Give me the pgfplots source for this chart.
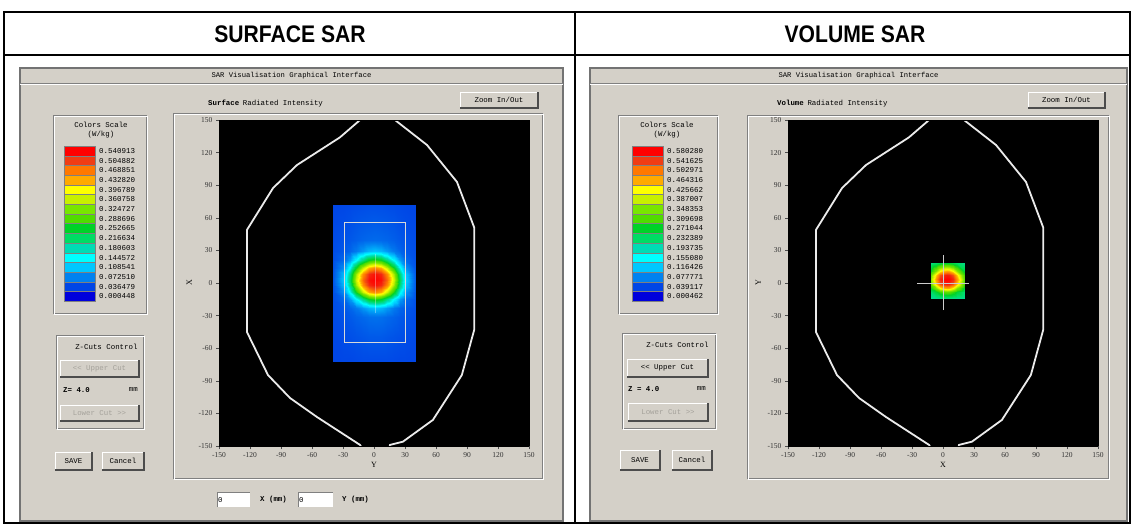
\documentclass[border=0pt]{standalone}
\usepackage{pgfplots}
\pgfplotsset{compat=1.18}
\usepackage{fontspec}
\setmainfont{Liberation Serif}
\newfontfamily\hdrfont{Liberation Sans}
\newfontfamily\guimono{Liberation Mono}

\definecolor{win}{RGB}{212,208,200}
\definecolor{dk}{RGB}{128,128,128}
\definecolor{gtxt}{RGB}{165,162,155}
\definecolor{sc0}{RGB}{0,0,220}
\definecolor{sc1}{RGB}{0,70,230}
\definecolor{sc2}{RGB}{0,130,240}
\definecolor{sc3}{RGB}{0,200,255}
\definecolor{sc4}{RGB}{0,255,255}
\definecolor{sc5}{RGB}{0,220,180}
\definecolor{sc6}{RGB}{0,220,100}
\definecolor{sc7}{RGB}{0,210,40}
\definecolor{sc8}{RGB}{80,220,0}
\definecolor{sc9}{RGB}{120,230,0}
\definecolor{sc10}{RGB}{200,240,0}
\definecolor{sc11}{RGB}{255,255,0}
\definecolor{sc12}{RGB}{255,170,0}
\definecolor{sc13}{RGB}{255,120,0}
\definecolor{sc14}{RGB}{240,60,20}
\definecolor{sc15}{RGB}{255,0,0}

\newcommand\gfont{\guimono\fontsize{7.4}{8}\selectfont}
\newcommand\sfont{\guimono\fontsize{7.5}{8}\selectfont}

\pgfplotsset{
  colormap={sar}{rgb255=(0,0,220) rgb255=(0,70,230) rgb255=(0,130,240) rgb255=(0,200,255)
    rgb255=(0,255,255) rgb255=(0,220,180) rgb255=(0,220,100) rgb255=(0,210,40)
    rgb255=(80,220,0) rgb255=(120,230,0) rgb255=(200,240,0) rgb255=(255,255,0)
    rgb255=(255,170,0) rgb255=(255,120,0) rgb255=(240,60,20) rgb255=(255,0,0)},
  sarplot/.style={
    view={0}{90}, scale only axis, width=310pt, height=326pt,
    anchor=south west,
    xmin=-150, xmax=150, ymin=-150, ymax=150, zmin=0, zmax=1,
    xtick={-150,-120,...,150}, ytick={-150,-120,...,150}, ztick=\empty,
    tick align=outside, tick pos=left, major tick length=3pt,
    every tick/.style={black!70},
    axis line style={black},
    tick label style={font=\fontsize{7.5}{8}\selectfont, text=black!80},
    /pgf/number format/assume math mode=true,
    label style={font=\fontsize{8}{8}\selectfont},
    xlabel style={yshift=2pt},
    colormap name=sar,
  },
}

% head outline (same contour on both cuts)
\pgfplotstableread{
x y z
-8 162 0.9
-13.5 150 0.9
-33 134 0.9
-74.5 108.6 0.9
-97.7 87.4 0.9
-123 48.8 0.9
-123 -45 0.9
-102.6 -84.7 0.9
-81.3 -105.8 0.9
-55.2 -123.3 0.9
-13.5 -149 0.9
-8 -158 0.9
}\outlineL
\pgfplotstableread{
x y z
13 -158 0.9
15.5 -149 0.9
28 -146 0.9
57 -126 0.9
85 -84.7 0.9
97 -43 0.9
97 51 0.9
80.3 93 0.9
51.3 127 0.9
20.3 150 0.9
14 162 0.9
}\outlineR

% surface SAR grid (W/kg)
\pgfplotstableread{
x y v
-40 -72 .036
-29 -72 .037
-23 -72 .037
-17 -72 .038
-11 -72 .039
-5 -72 .039
1 -72 .039
7 -72 .039
13 -72 .039
19 -72 .038
25 -72 .037
31 -72 .037
40 -72 .036
-40 -50 .037
-29 -50 .040
-23 -50 .042
-17 -50 .044
-11 -50 .046
-5 -50 .048
1 -50 .048
7 -50 .048
13 -50 .046
19 -50 .044
25 -50 .042
31 -50 .040
40 -50 .038
-40 -31 .039
-29 -31 .044
-23 -31 .048
-17 -31 .053
-11 -31 .057
-5 -31 .061
1 -31 .062
7 -31 .061
13 -31 .057
19 -31 .053
25 -31 .048
31 -31 .044
40 -31 .040
-40 -23 .040
-29 -23 .047
-23 -23 .055
-17 -23 .067
-11 -23 .084
-5 -23 .099
1 -23 .105
7 -23 .099
13 -23 .084
19 -23 .067
25 -23 .055
31 -23 .047
40 -23 .041
-40 -15 .041
-29 -15 .057
-23 -15 .087
-17 -15 .140
-11 -15 .204
-5 -15 .255
1 -15 .274
7 -15 .255
13 -15 .204
19 -15 .140
25 -15 .087
31 -15 .057
40 -15 .043
-40 -8 .043
-29 -8 .081
-23 -8 .152
-17 -8 .259
-11 -8 .365
-5 -8 .435
1 -8 .459
7 -8 .435
13 -8 .365
19 -8 .259
25 -8 .152
31 -8 .081
40 -8 .046
-40 -2 .045
-29 -2 .104
-23 -2 .205
-17 -2 .340
-11 -2 .456
-5 -2 .516
1 -2 .532
7 -2 .516
13 -2 .456
19 -2 .340
25 -2 .205
31 -2 .104
40 -2 .050
-40 3 .046
-29 3 .111
-23 3 .221
-17 3 .363
-11 3 .478
-5 3 .531
1 3 .540
7 3 .531
13 3 .478
19 3 .363
25 3 .221
31 3 .111
40 3 .051
-40 8 .045
-29 8 .104
-23 8 .205
-17 8 .340
-11 8 .456
-5 8 .516
1 8 .532
7 8 .516
13 8 .456
19 8 .340
25 8 .205
31 8 .104
40 8 .050
-40 14 .043
-29 14 .081
-23 14 .152
-17 14 .259
-11 14 .365
-5 14 .435
1 14 .459
7 14 .435
13 14 .365
19 14 .259
25 14 .152
31 14 .081
40 14 .046
-40 21 .041
-29 21 .057
-23 21 .087
-17 21 .140
-11 21 .204
-5 21 .255
1 21 .274
7 21 .255
13 21 .204
19 21 .140
25 21 .087
31 21 .057
40 21 .043
-40 29 .040
-29 29 .047
-23 29 .055
-17 29 .067
-11 29 .084
-5 29 .099
1 29 .105
7 29 .099
13 29 .084
19 29 .067
25 29 .055
31 29 .047
40 29 .041
-40 40 .039
-29 40 .044
-23 40 .047
-17 40 .051
-11 40 .055
-5 40 .057
1 40 .058
7 40 .057
13 40 .055
19 40 .051
25 40 .047
31 40 .044
40 40 .040
-40 55 .037
-29 55 .040
-23 55 .042
-17 55 .045
-11 55 .047
-5 55 .048
1 55 .049
7 55 .048
13 55 .047
19 55 .045
25 55 .042
31 55 .040
40 55 .038
-40 72 .036
-29 72 .037
-23 72 .038
-17 72 .039
-11 72 .040
-5 72 .041
1 72 .041
7 72 .041
13 72 .040
19 72 .039
25 72 .038
31 72 .037
40 72 .036
}\surfsar

% volume SAR grid (W/kg)
\pgfplotstableread{
x y v
-12 -14 .211
-6.5 -14 .215
-2.5 -14 .218
1.5 -14 .222
3.5 -14 .223
5.5 -14 .222
9.5 -14 .218
13.5 -14 .215
21 -14 .211
-12 -8.5 .230
-6.5 -8.5 .260
-2.5 -8.5 .295
1.5 -8.5 .318
3.5 -8.5 .322
5.5 -8.5 .318
9.5 -8.5 .295
13.5 -8.5 .260
21 -8.5 .221
-12 -4.5 .279
-6.5 -4.5 .353
-2.5 -4.5 .425
1.5 -4.5 .464
3.5 -4.5 .470
5.5 -4.5 .464
9.5 -4.5 .425
13.5 -4.5 .353
21 -4.5 .252
-12 -0.5 .339
-6.5 -0.5 .446
-2.5 -0.5 .526
1.5 -0.5 .560
3.5 -0.5 .564
5.5 -0.5 .560
9.5 -0.5 .526
13.5 -0.5 .446
21 -0.5 .292
-12 3.5 .365
-6.5 3.5 .480
-2.5 3.5 .556
1.5 3.5 .579
3.5 3.5 .580
5.5 3.5 .579
9.5 3.5 .556
13.5 3.5 .480
21 3.5 .312
-12 7.5 .339
-6.5 7.5 .446
-2.5 7.5 .526
1.5 7.5 .560
3.5 7.5 .564
5.5 7.5 .560
9.5 7.5 .526
13.5 7.5 .446
21 7.5 .292
-12 11.5 .279
-6.5 11.5 .353
-2.5 11.5 .425
1.5 11.5 .464
3.5 11.5 .470
5.5 11.5 .464
9.5 11.5 .425
13.5 11.5 .353
21 11.5 .252
-12 18 .218
-6.5 18 .232
-2.5 18 .251
1.5 18 .263
3.5 18 .265
5.5 18 .263
9.5 18 .251
13.5 18 .232
21 18 .215
}\volsar

% GUI helpers (coordinates in px, y downward)
\newcommand\btn[5]{%
  \fill[win] (#1,#2) rectangle (#3,#4);
  \draw[white, line width=0.9pt] (#1,#4) -- (#1,#2) -- (#3,#2);
  \draw[black!70, line width=1.3pt] (#1,#4) -- (#3,#4) -- (#3,#2);
  \node[font=\gfont, inner sep=0pt] at ({(#1+#3)/2},{(#2+#4)/2}) {#5};
}
\newcommand\grp[4]{%
  \draw[dk, line width=0.6pt] (#1,#2) rectangle (#3,#4);
  \draw[white, line width=0.6pt] (#1+1,#2+1) rectangle (#3+1,#4+1);
}
\newcommand\window[4]{%
  \fill[win] (#1,#2) rectangle (#3,#4);
  \draw[black!55, line width=1.5pt] (#1,#2) rectangle (#3,#4);
  \draw[dk, line width=0.8pt] (#1,#2+15) -- (#3,#2+15);
  \draw[white, line width=0.6pt] (#1,#2+16) -- (#3,#2+16);
  \node[font=\guimono\fontsize{7.2}{8}\selectfont, inner sep=0pt] at ({(#1+#3)/2},#2+8) {SAR Visualisation Graphical Interface};
}
\newcommand\colscale[2]{%
  \foreach \c [count=\i from 0] in {sc15,sc14,sc13,sc12,sc11,sc10,sc9,sc8,sc7,sc6,sc5,sc4,sc3,sc2,sc1,sc0}
    \filldraw[fill=\c, draw=black!50, line width=0.3pt] (#1,146+\i*9.7) rectangle (#1+31,155.7+\i*9.7);
  \foreach \l [count=\i from 0] in {#2}
    \node[anchor=west, inner sep=0pt, font=\sfont] at (#1+35,150.9+\i*9.7) {\l};
}

\begin{document}
\begin{tikzpicture}[x=1pt, y=-1pt]
\useasboundingbox (0,0) rectangle (1134,525);
\fill[white] (0,0) rectangle (1134,525);

% table with headers
\draw[line width=1.2pt] (4,12) rectangle (1130,523);
\draw[line width=1.2pt] (4,55) -- (1130,55);
\draw[line width=1.2pt] (575,12) -- (575,523);
\node at (290,34) {\scalebox{0.88}[1]{\hdrfont\bfseries\fontsize{24}{24}\selectfont SURFACE SAR}};
\node at (855,34) {\scalebox{0.88}[1]{\hdrfont\bfseries\fontsize{24}{24}\selectfont VOLUME SAR}};

% ---------- left window: surface SAR ----------
\window{20}{68}{563}{521}
\node[anchor=west, font=\gfont, inner sep=0pt] at (208,104) {\textbf{Surface}\enspace Radiated Intensity};
\btn{460}{92}{538}{108}{Zoom In/Out}
\grp{53}{115}{146}{313}
\node[font=\gfont] at (101,125) {Colors Scale};
\node[font=\gfont] at (101,135) {(W/kg)};
\colscale{64}{0.540913,0.504882,0.468851,0.432820,0.396789,0.360758,0.324727,0.288696,0.252665,0.216634,0.180603,0.144572,0.108541,0.072510,0.036479,0.000448}
\grp{56}{335}{143}{428}
\node[anchor=east, font=\gfont] at (141,347) {Z-Cuts Control};
\btn{60}{360}{139}{377}{\textcolor{gtxt}{<{}< Upper Cut}}
\node[anchor=west, font=\gfont\bfseries, inner sep=0pt] at (63,390) {Z= 4.0};
\node[anchor=east, font=\gfont, inner sep=0pt] at (138,390) {mm};
\btn{60}{405}{139}{421}{\textcolor{gtxt}{Lower Cut >{}>}}
\btn{55}{452}{92}{470}{SAVE}
\btn{102}{452}{144}{470}{Cancel}
\grp{173}{113}{542}{478}
\fill[white] (217,492) rectangle (250,507);
\draw[dk] (217,507) -- (217,492) -- (250,492);
\node[anchor=west, font=\gfont, inner sep=1pt] at (217,500) {0};
\node[anchor=west, font=\gfont\bfseries, inner sep=0pt] at (260,500) {X (mm)};
\fill[white] (298,492) rectangle (333,507);
\draw[dk] (298,507) -- (298,492) -- (333,492);
\node[anchor=west, font=\gfont, inner sep=1pt] at (298,500) {0};
\node[anchor=west, font=\gfont\bfseries, inner sep=0pt] at (342,500) {Y (mm)};
\fill[black] (219,120) rectangle (529,446);

% ---------- right window: volume SAR ----------
\window{590}{68}{1127}{521}
\node[anchor=west, font=\gfont, inner sep=0pt] at (777,104) {\textbf{Volume}\enspace Radiated Intensity};
\btn{1028}{92}{1105}{108}{Zoom In/Out}
\grp{618}{115}{717}{313}
\node[font=\gfont] at (667,125) {Colors Scale};
\node[font=\gfont] at (667,135) {(W/kg)};
\colscale{632}{0.580280,0.541625,0.502971,0.464316,0.425662,0.387007,0.348353,0.309698,0.271044,0.232389,0.193735,0.155080,0.116426,0.077771,0.039117,0.000462}
\grp{622}{333}{715}{428}
\node[anchor=east, font=\gfont] at (712,345) {Z-Cuts Control};
\btn{627}{359}{708}{377}{<{}< Upper Cut}
\node[anchor=west, font=\gfont\bfseries, inner sep=0pt] at (628,389) {Z = 4.0};
\node[anchor=east, font=\gfont, inner sep=0pt] at (706,389) {mm};
\btn{628}{403}{708}{421}{\textcolor{gtxt}{Lower Cut >{}>}}
\btn{620}{450}{660}{470}{SAVE}
\btn{672}{450}{712}{470}{Cancel}
\grp{747}{115}{1108}{478}
\fill[black] (788,120) rectangle (1098,446);

% ---------- plots ----------
\begin{axis}[sarplot, at={(219pt,-446pt)}, xlabel={Y}, ylabel={X},
    point meta min=0.000448, point meta max=0.540913]
  \addplot3[surf, shader=interp, mesh/cols=13, point meta=\thisrow{v}]
    table[x=x, y=y, z=v] {\surfsar};
  \addplot3[white!85!black, line width=0.7pt]
    coordinates {(-29,-55,0.9) (30,-55,0.9) (30,56,0.9) (-29,56,0.9) (-29,-55,0.9)};
  \addplot3[white, opacity=0.35, line width=0.6pt] coordinates {(1,-28,0.9) (1,27,0.9)};
  \addplot3[white!92!black, line width=1.8pt] table[x=x, y=y, z=z] {\outlineL};
  \addplot3[white!92!black, line width=1.8pt] table[x=x, y=y, z=z] {\outlineR};
\end{axis}

\begin{axis}[sarplot, at={(788pt,-446pt)}, xlabel={X}, ylabel={Y},
    point meta min=0.000462, point meta max=0.580280]
  \addplot3[surf, shader=interp, mesh/cols=9, point meta=\thisrow{v}]
    table[x=x, y=y, z=v] {\volsar};
  \addplot3[white!80!black, line width=0.7pt] coordinates {(0,-25,0.9) (0,26,0.9)};
  \addplot3[white!80!black, line width=0.7pt] coordinates {(-25,0,0.9) (25,0,0.9)};
  \addplot3[white!92!black, line width=1.8pt] table[x=x, y=y, z=z] {\outlineL};
  \addplot3[white!92!black, line width=1.8pt] table[x=x, y=y, z=z] {\outlineR};
\end{axis}
\end{tikzpicture}
\end{document}
